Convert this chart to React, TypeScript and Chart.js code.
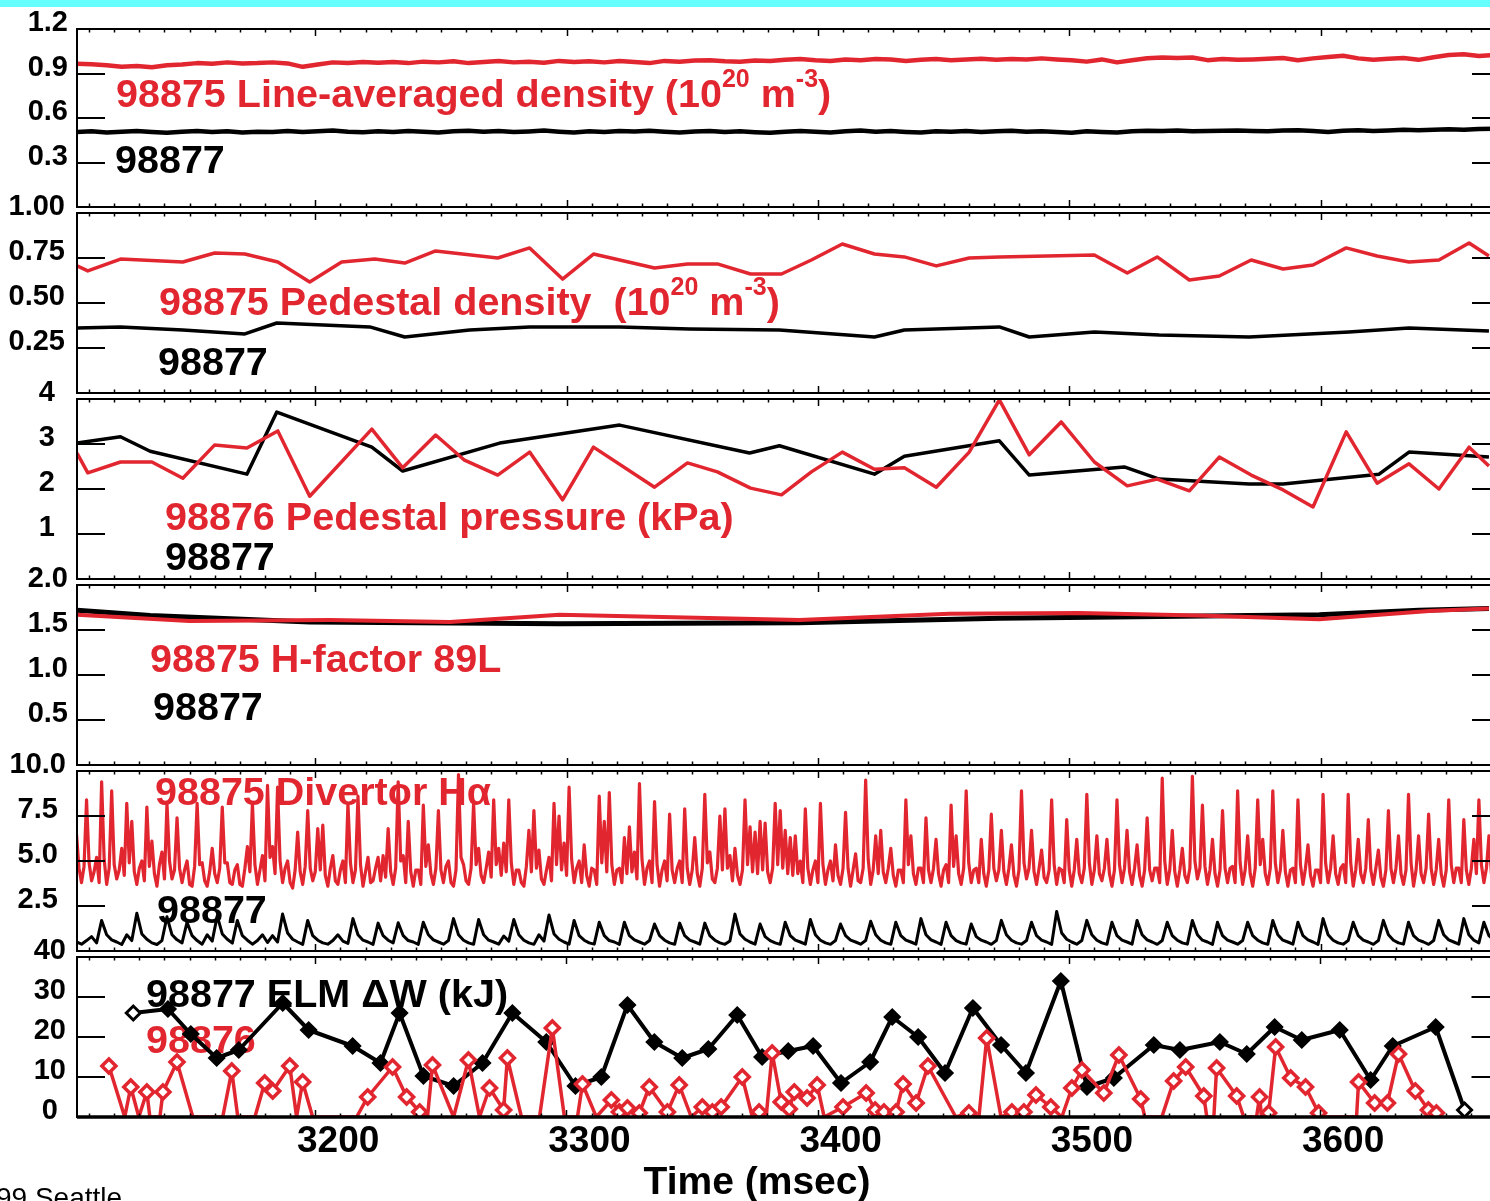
import React, { useEffect, useRef } from "react";
import { Chart, registerables } from "chart.js";

Chart.register(...registerables);

const RED = "rgb(226,38,48)";
const BLACK = "#000000";
const FONT = "'Liberation Sans', Arial, Helvetica, sans-serif";

// ---------- shared time axis ----------
const X_MIN = 3105.2;
const X_MAX = 3671.4;
const X_TICK_VALUES = [3200, 3300, 3400, 3500, 3600];
const X_TICK_LABELS = ["3200", "3300", "3400", "3500", "3600"];
const X_TITLE = "Time (msec)";
const FOOTER = "99 Seattle";

// ---------- panel 1: line-averaged density (sampled every 6 ms from 3105) ----------
const LAD_START = 3105;
const LAD_STEP = 6;
const lineAvg98875 = [
  0.965, 0.962, 0.955, 0.945, 0.95, 0.942, 0.955, 0.96, 0.97, 0.965,
  0.975, 0.968, 0.97, 0.975, 0.968, 0.945, 0.96, 0.975, 0.97, 0.978,
  0.972, 0.978, 0.97, 0.98, 0.975, 0.982, 0.97, 0.978, 0.985, 0.975,
  0.98, 0.972, 0.985, 0.978, 0.982, 0.975, 0.985, 0.978, 0.97, 0.985,
  0.98, 0.988, 0.99, 0.982, 0.98, 0.988, 0.985, 0.992, 0.998, 0.99,
  0.985, 0.995, 0.99, 0.998, 0.995, 0.985, 0.992, 0.998, 0.99, 0.995,
  1.0, 0.992, 0.998, 0.995, 1.002, 0.995, 0.99, 0.98, 0.995, 0.975,
  0.99, 1.003, 1.008, 1.005, 1.008, 0.99, 0.998, 0.992, 0.995, 1.0,
  1.005, 0.99, 1.002, 1.012, 1.02, 1.002, 0.992, 1.0, 1.005, 0.992,
  1.01, 1.025, 1.03, 1.018, 1.025,
];
const lineAvg98877 = [
  0.505, 0.51, 0.503, 0.508, 0.512, 0.505, 0.5, 0.508, 0.513, 0.506,
  0.51, 0.502, 0.508, 0.505, 0.512, 0.506, 0.51, 0.515, 0.508, 0.504,
  0.51, 0.506, 0.512, 0.508, 0.503, 0.51, 0.514, 0.507, 0.512, 0.505,
  0.509, 0.515, 0.508, 0.502, 0.51, 0.506, 0.512, 0.509, 0.514, 0.508,
  0.503, 0.509, 0.513, 0.506, 0.51, 0.504, 0.5, 0.508, 0.512, 0.507,
  0.503, 0.51, 0.515, 0.508, 0.512, 0.506, 0.502, 0.51, 0.507, 0.512,
  0.505, 0.51, 0.514, 0.508, 0.511, 0.506, 0.501, 0.51, 0.506, 0.503,
  0.51, 0.514, 0.512, 0.516, 0.51, 0.512, 0.514, 0.515, 0.513, 0.51,
  0.515, 0.518, 0.512, 0.506, 0.514, 0.518, 0.512, 0.516, 0.52, 0.517,
  0.521, 0.524, 0.52, 0.526, 0.528,
];
const P1_Y_TICKS = [0.3, 0.6, 0.9, 1.2];
const P1_Y_LABELS = ["0.3", "0.6", "0.9", "1.2"];

// ---------- panel 2: pedestal density ----------
const pedTime98875 = [
  3105.2, 3109.5, 3122.5, 3147.3, 3160.0, 3172.0, 3185.1, 3197.8, 3210.5, 3223.7,
  3235.6, 3247.9, 3272.6, 3285.3, 3298.4, 3310.7, 3335.0, 3348.1, 3360.0, 3373.2,
  3385.5, 3397.4, 3409.7, 3422.5, 3434.4, 3447.1, 3460.2, 3472.2, 3510.0, 3523.1,
  3535.0, 3547.8, 3559.7, 3572.4, 3585.1, 3597.0, 3610.2, 3622.5, 3635.2, 3647.1,
  3659.1, 3667.0,
];
const pedDens98875 = [
  0.706, 0.678, 0.744, 0.728, 0.778, 0.772, 0.728, 0.617, 0.728, 0.744,
  0.722, 0.789, 0.75, 0.806, 0.633, 0.772, 0.694, 0.717, 0.717, 0.661,
  0.661, 0.739, 0.828, 0.772, 0.756, 0.706, 0.75, 0.756, 0.767, 0.667,
  0.756, 0.628, 0.65, 0.739, 0.689, 0.711, 0.806, 0.761, 0.728, 0.739,
  0.833, 0.761,
];
const pedTime98877 = [
  3105.2, 3122.5, 3147.3, 3172.0, 3184.7, 3221.7, 3235.6, 3261.4, 3285.3, 3321.1,
  3348.9, 3384.7, 3422.5, 3434.4, 3472.2, 3484.1, 3510.0, 3535.8, 3571.6, 3611.3,
  3635.2, 3667.0,
];
const pedDens98877 = [
  0.361, 0.367, 0.35, 0.328, 0.389, 0.367, 0.311, 0.35, 0.367, 0.367,
  0.356, 0.35, 0.311, 0.35, 0.367, 0.311, 0.339, 0.322, 0.311, 0.339,
  0.361, 0.344,
];
const P2_Y_TICKS = [0.25, 0.5, 0.75, 1.0];
const P2_Y_LABELS = ["0.25", "0.50", "0.75", "1.00"];

// ---------- panel 3: pedestal pressure ----------
const prsTime98876 = [
  3105.2, 3109.5, 3122.5, 3135.0, 3147.3, 3160.0, 3172.8, 3185.1, 3197.8, 3222.5,
  3234.8, 3247.9, 3259.4, 3272.6, 3285.3, 3298.4, 3310.7, 3335.0, 3348.1, 3360.0,
  3373.2, 3385.5, 3397.4, 3409.7, 3422.5, 3434.4, 3447.1, 3460.2, 3472.2, 3484.1,
  3496.8, 3510.0, 3523.1, 3535.0, 3547.8, 3559.7, 3572.4, 3585.1, 3597.0, 3610.2,
  3622.5, 3635.2, 3647.1, 3659.1, 3667.0,
];
const prs98876 = [
  2.8, 2.36, 2.6, 2.6, 2.24, 2.98, 2.91, 3.29, 1.84, 3.33,
  2.47, 3.2, 2.64, 2.31, 2.82, 1.76, 2.93, 2.04, 2.58, 2.38,
  2.02, 1.87, 2.38, 2.82, 2.44, 2.47, 2.04, 2.82, 3.98, 2.76,
  3.49, 2.6, 2.07, 2.22, 1.96, 2.71, 2.31, 1.98, 1.6, 3.27,
  2.13, 2.56, 2.0, 2.93, 2.51,
];
const prsTime98877 = [
  3105.2, 3122.5, 3134.3, 3172.8, 3184.7, 3222.5, 3234.8, 3273.4, 3321.1, 3372.8,
  3384.7, 3422.5, 3434.4, 3472.2, 3484.1, 3521.9, 3535.8, 3571.6, 3585.1, 3623.3,
  3635.2, 3667.0,
];
const prs98877 = [
  3.02, 3.16, 2.84, 2.33, 3.71, 2.93, 2.4, 3.02, 3.42, 2.8,
  2.96, 2.33, 2.73, 3.07, 2.31, 2.49, 2.22, 2.11, 2.11, 2.33,
  2.82, 2.71,
];
const P3_Y_TICKS = [1, 2, 3, 4];
const P3_Y_LABELS = ["1", "2", "3", "4"];

// ---------- panel 4: H-factor 89L ----------
const hTime98875 = [3105.2, 3149.9, 3205.8, 3253.5, 3297.2, 3392.7, 3452.3, 3504.0, 3551.7, 3599.5, 3643.2, 3667.0];
const h98875 = [1.67, 1.6, 1.61, 1.59, 1.67, 1.61, 1.68, 1.69, 1.66, 1.62, 1.71, 1.74];
const hTime98877 = [3105.2, 3134.3, 3197.8, 3297.2, 3392.7, 3472.2, 3599.5, 3639.2, 3667.0];
const h98877 = [1.72, 1.66, 1.59, 1.57, 1.58, 1.63, 1.67, 1.72, 1.74];
const P4_Y_TICKS = [0.5, 1.0, 1.5, 2.0];
const P4_Y_LABELS = ["0.5", "1.0", "1.5", "2.0"];

// ---------- panel 5: divertor H-alpha ----------
// 98875 sampled every 1 ms from 3105, 98877 sampled every 2 ms from 3105
const HA75_START = 3105;
const HA75_STEP = 1;
const ha98875 = [
  6.5, 4.6, 3.8, 4.7, 8.4, 4.9, 3.9, 4.4, 5.2, 3.8, 9.4, 5.1, 3.7, 4.6, 8.9, 4.8, 4.0, 4.5, 5.7, 4.2,
  8.2, 4.9, 7.2, 4.4, 3.7, 4.6, 5.0, 3.9, 8.0, 4.7, 6.1, 4.3, 3.6, 4.8, 5.5, 4.0, 8.2, 5.0, 4.0, 4.5,
  7.4, 4.6, 3.8, 4.5, 5.0, 3.7, 3.6, 4.7, 8.2, 4.8, 4.9, 3.9, 3.6, 4.4, 5.7, 4.3, 3.8, 4.6, 8.0, 4.9,
  4.9, 3.8, 3.7, 4.5, 4.8, 3.7, 3.6, 4.6, 5.8, 4.4, 8.2, 4.8, 3.7, 4.5, 5.3, 3.9, 9.2, 5.2, 5.8, 4.3,
  9.1, 5.0, 3.8, 4.6, 5.0, 3.8, 3.5, 4.5, 6.6, 4.4, 3.7, 4.7, 7.8, 4.6, 3.9, 4.4, 6.8, 4.5, 7.0, 4.2,
  3.6, 4.6, 5.3, 3.9, 3.7, 4.5, 5.0, 3.8, 8.2, 4.9, 3.8, 4.5, 8.6, 4.8, 3.6, 4.4, 5.2, 3.8, 3.9, 4.6,
  5.2, 3.9, 5.3, 4.1, 6.8, 4.4, 3.7, 4.6, 9.4, 5.0, 5.3, 3.8, 7.2, 4.4, 3.6, 4.5, 4.5, 3.7, 8.1, 4.7,
  5.9, 4.3, 3.7, 4.6, 7.8, 4.5, 3.8, 4.7, 5.0, 3.8, 3.6, 4.5, 9.8, 5.2, 4.8, 3.9, 3.7, 4.6, 8.2, 4.8,
  5.7, 4.2, 3.8, 4.6, 5.5, 4.1, 8.4, 4.8, 5.7, 4.2, 6.0, 4.4, 8.4, 4.9, 3.7, 4.5, 4.5, 3.8, 3.6, 4.7,
  6.7, 4.4, 7.8, 4.6, 5.6, 4.0, 3.7, 4.5, 5.2, 3.9, 8.2, 4.8, 7.5, 4.5, 6.0, 4.2, 9.1, 5.1, 3.8, 4.6,
  5.0, 3.8, 5.9, 4.2, 3.6, 4.6, 4.5, 3.7, 8.6, 4.9, 7.2, 4.4, 8.8, 4.8, 3.7, 4.5, 4.6, 3.8, 6.3, 4.3,
  6.9, 4.4, 5.5, 4.0, 9.3, 5.1, 3.7, 4.6, 5.0, 3.8, 8.3, 4.8, 3.6, 4.5, 5.0, 3.9, 7.6, 4.5, 3.8, 4.6,
  5.0, 3.8, 7.9, 4.6, 3.7, 4.5, 6.3, 4.3, 3.6, 4.6, 8.7, 4.9, 5.5, 4.0, 3.8, 4.6, 7.5, 4.5, 7.9, 4.6,
  5.3, 3.9, 5.7, 4.2, 3.7, 4.5, 8.4, 4.8, 6.9, 4.4, 6.6, 4.3, 7.2, 4.5, 7.1, 4.4, 3.8, 4.6, 8.2, 4.8,
  7.8, 4.6, 6.7, 4.3, 6.3, 4.2, 6.4, 4.3, 5.0, 3.8, 7.9, 4.6, 3.7, 4.5, 5.0, 3.8, 8.2, 4.8, 3.7, 4.5,
  5.0, 3.9, 5.9, 4.2, 3.7, 4.6, 7.7, 4.6, 3.6, 4.5, 5.4, 3.9, 3.8, 4.6, 9.5, 5.1, 3.7, 4.5, 6.4, 4.3,
  6.7, 4.4, 3.8, 4.6, 5.7, 4.2, 3.6, 4.5, 4.5, 3.8, 8.4, 4.8, 6.4, 4.3, 3.7, 4.6, 4.6, 3.8, 7.4, 4.5,
  3.8, 4.6, 6.2, 4.3, 3.6, 4.5, 4.8, 3.8, 8.1, 4.7, 6.4, 4.3, 3.7, 4.6, 8.9, 4.9, 3.8, 4.5, 4.6, 3.8,
  6.2, 4.3, 3.6, 4.5, 7.6, 4.6, 3.9, 4.5, 6.7, 4.4, 3.7, 4.6, 5.9, 4.2, 3.6, 4.5, 8.9, 4.9, 4.0, 4.6,
  6.7, 4.4, 3.7, 4.6, 5.6, 4.1, 3.8, 4.5, 8.4, 4.8, 3.7, 4.6, 4.5, 3.8, 7.3, 4.5, 3.6, 4.5, 6.2, 4.3,
  3.8, 4.6, 8.7, 4.9, 3.7, 4.5, 6.4, 4.3, 3.9, 4.6, 6.2, 4.3, 3.6, 4.5, 8.4, 4.8, 3.8, 4.6, 6.7, 4.4,
  3.7, 4.6, 5.9, 4.2, 3.6, 4.5, 7.4, 4.5, 3.9, 4.6, 4.6, 3.8, 9.6, 5.0, 3.7, 4.5, 6.7, 4.4, 3.6, 4.5,
  5.7, 4.2, 3.8, 4.6, 9.7, 5.0, 4.0, 4.6, 8.1, 4.7, 3.7, 4.5, 6.2, 4.3, 3.6, 4.5, 7.8, 4.6, 3.8, 4.6,
  4.7, 3.8, 8.9, 4.9, 3.7, 4.5, 6.4, 4.3, 3.6, 4.6, 8.4, 4.8, 6.2, 4.3, 3.7, 4.6, 8.9, 4.9, 3.8, 4.5,
  6.7, 4.4, 3.6, 4.5, 4.6, 3.8, 8.4, 4.8, 3.7, 4.6, 5.9, 4.2, 3.6, 4.5, 4.5, 3.8, 8.7, 4.9, 3.8, 4.6,
  6.4, 4.3, 3.7, 4.6, 4.8, 3.8, 8.7, 4.9, 3.6, 4.5, 6.2, 4.3, 3.8, 4.6, 7.3, 4.5, 3.7, 4.6, 5.6, 4.1,
  3.6, 4.5, 7.8, 4.6, 3.8, 4.6, 6.4, 4.3, 3.7, 4.5, 8.7, 4.9, 3.6, 4.5, 6.4, 4.3, 3.8, 4.6, 7.6, 4.6,
  3.7, 4.5, 6.2, 4.3, 3.6, 4.5, 8.4, 4.8, 3.8, 4.6, 4.6, 3.8, 7.3, 4.5, 3.7, 4.6, 6.2, 4.3, 8.4, 4.8,
  3.8, 4.6, 6.4, 4.3, 3.7, 4.5, 4.5, 3.8,
];
const HA77_START = 3105;
const HA77_STEP = 2;
const ha98877 = [
  0.5, 0.38, 0.58, 0.8, 0.45, 1.7, 0.9, 0.62, 0.5, 0.36,
  0.9, 0.58, 2.1, 0.95, 0.65, 0.45, 0.36, 0.58, 1.9, 0.9,
  0.62, 0.45, 1.6, 0.85, 0.58, 0.38, 0.9, 0.55, 1.95, 0.95,
  0.65, 0.44, 1.7, 0.85, 0.6, 0.38, 0.58, 0.9, 0.47, 0.85,
  0.5, 2.05, 1.0, 0.65, 0.5, 0.37, 1.7, 0.85, 0.6, 0.45,
  0.38, 0.58, 0.9, 0.55, 0.42, 1.8, 0.9, 0.6, 0.5, 0.37,
  1.55, 0.85, 0.6, 0.45, 1.57, 0.85, 0.58, 0.5, 0.37, 1.6,
  0.9, 0.62, 0.5, 0.38, 0.58, 1.8, 0.9, 0.6, 0.45, 0.37,
  1.75, 0.9, 0.6, 0.5, 0.38, 0.83, 0.55, 1.75, 0.9, 0.6,
  0.45, 0.37, 0.9, 0.55, 2.0, 0.95, 0.65, 0.5, 0.38, 1.7,
  0.85, 0.6, 0.45, 0.38, 1.6, 0.85, 0.58, 0.5, 0.37, 1.6,
  0.85, 0.62, 0.5, 0.38, 0.58, 1.5, 0.85, 0.6, 0.45, 0.37,
  1.55, 0.85, 0.6, 0.5, 0.38, 1.55, 0.85, 0.6, 0.45, 0.37,
  0.55, 2.05, 0.95, 0.65, 0.5, 0.38, 1.5, 0.8, 0.58, 0.45,
  0.37, 1.6, 0.85, 0.6, 0.5, 0.38, 1.75, 0.9, 0.6, 0.45,
  0.37, 0.58, 1.5, 0.85, 0.6, 0.5, 0.38, 0.58, 1.65, 0.9,
  0.6, 0.45, 0.37, 1.6, 0.85, 0.6, 0.5, 0.38, 1.8, 0.9,
  0.62, 0.5, 0.37, 1.6, 0.85, 0.58, 0.45, 0.38, 1.5, 0.8,
  0.6, 0.5, 0.37, 0.58, 1.7, 0.9, 0.6, 0.45, 0.38, 0.58,
  1.6, 0.85, 0.6, 0.5, 0.37, 2.2, 1.0, 0.65, 0.5, 0.38,
  0.58, 1.7, 0.9, 0.6, 0.45, 0.37, 1.6, 0.85, 0.6, 0.5,
  0.38, 1.7, 0.9, 0.62, 0.5, 0.37, 0.58, 1.6, 0.85, 0.6,
  0.45, 0.38, 1.7, 0.9, 0.6, 0.5, 0.37, 1.6, 0.85, 0.6,
  0.5, 0.38, 0.58, 1.6, 0.85, 0.6, 0.45, 0.37, 1.7, 0.9,
  0.6, 0.5, 0.38, 1.6, 0.85, 0.62, 0.5, 0.37, 1.8, 0.9,
  0.6, 0.45, 0.38, 0.58, 1.6, 0.85, 0.6, 0.5, 0.37, 0.58,
  1.7, 0.9, 0.6, 0.45, 0.38, 1.6, 0.85, 0.6, 0.5, 0.37,
  0.58, 1.7, 0.9, 0.62, 0.5, 0.38, 1.8, 0.9, 0.6, 0.45,
  1.6, 0.85, 0.6, 0.5,
];
const P5_Y_TICKS = [2.5, 5.0, 7.5, 10.0];
const P5_Y_LABELS = ["2.5", "5.0", "7.5", "10.0"];

// ---------- panel 6: ELM energy loss ----------
const elmTime98877 = [
  3127.6, 3141.4, 3150.5, 3160.8, 3169.6, 3187.1, 3197.4, 3214.9, 3226.0, 3233.6,
  3243.1, 3255.1, 3266.6, 3278.5, 3292.0, 3303.6, 3313.9, 3324.3, 3335.0, 3346.1,
  3356.5, 3368.0, 3377.9, 3388.3, 3398.2, 3409.3, 3420.9, 3429.7, 3440.0, 3450.7,
  3461.8, 3473.0, 3482.9, 3496.8, 3507.2, 3517.9, 3533.8, 3544.2, 3560.1, 3570.8,
  3581.9, 3592.7, 3607.8, 3620.1, 3628.9, 3646.0, 3657.5,
];
const elm98877 = [
  26.0, 27.0, 20.75, 14.75, 16.75, 28.5, 21.75, 17.75, 13.5, 26.0,
  10.25, 7.75, 13.5, 26.0, 18.75, 7.75, 10.0, 28.0, 18.75, 14.75,
  17.0, 25.5, 15.0, 16.5, 17.75, 8.5, 13.75, 25.0, 20.0, 11.0,
  27.25, 18.0, 11.0, 34.0, 7.5, 9.75, 18.0, 16.75, 18.75, 15.75,
  22.5, 19.25, 21.75, 9.25, 17.75, 22.5, 1.75,
];
const elmTime98876 = [
  3117.9, 3124.2, 3126.6, 3129.8, 3133.0, 3134.2, 3138.2, 3139.4, 3145.0, 3151.3,
  3163.2, 3166.8, 3169.2, 3176.0, 3179.9, 3183.1, 3189.9, 3192.6, 3195.0, 3199.0,
  3216.5, 3220.9, 3230.8, 3236.4, 3241.6, 3244.7, 3246.7, 3255.1, 3261.0, 3265.4,
  3269.4, 3275.0, 3276.5, 3282.1, 3289.3, 3294.4, 3299.2, 3304.4, 3306.4, 3311.9,
  3317.9, 3321.1, 3324.3, 3329.0, 3333.0, 3340.2, 3344.9, 3349.7, 3354.1, 3358.1,
  3361.6, 3370.0, 3374.0, 3376.7, 3379.5, 3381.9, 3385.5, 3388.7, 3390.7, 3395.8,
  3399.8, 3402.6, 3410.1, 3419.3, 3422.9, 3426.4, 3431.2, 3434.0, 3439.2, 3443.9,
  3455.0, 3460.2, 3464.2, 3467.3, 3473.0, 3477.3, 3482.1, 3486.9, 3492.8, 3497.2,
  3501.2, 3505.2, 3513.9, 3519.9, 3528.6, 3530.2, 3537.0, 3541.7, 3546.5, 3553.7,
  3554.9, 3557.7, 3558.8, 3566.8, 3569.6, 3574.7, 3575.9, 3576.7, 3579.5, 3582.3,
  3588.3, 3594.2, 3599.4, 3600.6, 3614.5, 3615.3, 3621.7, 3626.8, 3631.2, 3637.9,
  3643.1, 3646.3, 3648.3,
];
const elm98876 = [
  12.75, 0, 7.5, 0, 6.25, 0, 0, 6.25, 13.75, 0,
  0, 11.5, 0, 0, 8.5, 6.5, 12.75, 0, 8.75, 0,
  0, 5.0, 12.5, 5.0, 1.25, 0, 13.0, 0, 14.25, 0,
  7.25, 1.75, 14.75, 0, 0, 22.25, 0, 0, 8.25, 0,
  4.25, 1.25, 2.25, 1.0, 7.5, 1.25, 8.0, 0, 2.5, 1.25,
  2.5, 10.0, 0, 1.25, 0, 16.0, 3.75, 2.0, 6.25, 4.75,
  8.0, 0, 2.5, 6.0, 1.75, 1.25, 1.25, 8.25, 3.5, 12.75,
  0, 1.0, 0, 19.75, 0, 1.25, 1.25, 5.5, 2.5, 0,
  7.25, 11.75, 6.0, 15.5, 4.5, 0, 0, 9.0, 12.5, 5.25,
  0, 0, 12.25, 5.25, 0, 0, 5.0, 0, 1.0, 17.5,
  9.75, 7.5, 1.0, 0, 0, 8.75, 3.5, 3.5, 15.75, 6.5,
  1.75, 1.0, 0,
];
const P6_Y_TICKS = [0, 10, 20, 30, 40];
const P6_Y_LABELS = ["0", "10", "20", "30", "40"];

// ---------- helpers ----------
type Pt = { x: number; y: number };
const pairs = (t: number[], v: number[]): Pt[] => v.map((y, i) => ({ x: t[i], y }));
const sampled = (start: number, step: number, v: number[]): Pt[] =>
  v.map((y, i) => ({ x: start + i * step, y }));

type Part = { text: string; sup?: boolean };
type Label = { parts: Part[]; color: string; x: number; baseline: number };

const LABEL_SIZE = 39.5;
const SUP_SIZE = 25;
const SUP_RAISE = 20;
const PAD_T = 44;
const PAD_B = 44;
const PAGE_H = 1201;
const CANVAS_W = 1510;
const Y_FONT = 29;

function drawRich(ctx: CanvasRenderingContext2D, lab: Label, offsetY: number) {
  let x = lab.x;
  const y = lab.baseline - offsetY;
  ctx.fillStyle = lab.color;
  ctx.textAlign = "left";
  ctx.textBaseline = "alphabetic";
  for (const p of lab.parts) {
    ctx.font = `bold ${p.sup ? SUP_SIZE : LABEL_SIZE}px ${FONT}`;
    ctx.fillText(p.text, x, p.sup ? y - SUP_RAISE : y);
    x += ctx.measureText(p.text).width;
  }
}

type PanelDef = {
  top: number;
  bottom: number;
  yMax: number;
  yTicks: number[];
  yLabels: string[];
  yLabelPad: number;
  datasets: any[];
  labels: Label[];
};

const line = (data: Pt[], color: string, width: number, extra: any = {}) => ({
  data,
  borderColor: color,
  backgroundColor: color,
  borderWidth: width,
  pointRadius: 0,
  tension: 0,
  borderJoinStyle: "round",
  fill: false,
  ...extra,
});

const elmRed = pairs(elmTime98876, elm98876);
const elmBlack = pairs(elmTime98877, elm98877);

const PANELS: PanelDef[] = [
  {
    top: 29,
    bottom: 207,
    yMax: 1.2,
    yTicks: P1_Y_TICKS,
    yLabels: P1_Y_LABELS,
    yLabelPad: 9,
    datasets: [
      line(sampled(LAD_START, LAD_STEP, lineAvg98875), RED, 4.5),
      line(sampled(LAD_START, LAD_STEP, lineAvg98877), BLACK, 4.5),
    ],
    labels: [
      {
        parts: [
          { text: "98875 Line-averaged density (10" },
          { text: "20", sup: true },
          { text: " m" },
          { text: "-3", sup: true },
          { text: ")" },
        ],
        color: RED,
        x: 116,
        baseline: 107,
      },
      { parts: [{ text: "98877" }], color: BLACK, x: 115, baseline: 173 },
    ],
  },
  {
    top: 213,
    bottom: 393,
    yMax: 1.0,
    yTicks: P2_Y_TICKS,
    yLabels: P2_Y_LABELS,
    yLabelPad: 12,
    datasets: [
      line(pairs(pedTime98875, pedDens98875), RED, 3.5),
      line(pairs(pedTime98877, pedDens98877), BLACK, 3.5),
    ],
    labels: [
      {
        parts: [
          { text: "98875 Pedestal density  (10" },
          { text: "20", sup: true },
          { text: " m" },
          { text: "-3", sup: true },
          { text: ")" },
        ],
        color: RED,
        x: 159,
        baseline: 315,
      },
      { parts: [{ text: "98877" }], color: BLACK, x: 158, baseline: 375 },
    ],
  },
  {
    top: 399,
    bottom: 579,
    yMax: 4,
    yTicks: P3_Y_TICKS,
    yLabels: P3_Y_LABELS,
    yLabelPad: 22,
    datasets: [
      line(pairs(prsTime98876, prs98876), RED, 3.5),
      line(pairs(prsTime98877, prs98877), BLACK, 3.5),
    ],
    labels: [
      { parts: [{ text: "98876 Pedestal pressure (kPa)" }], color: RED, x: 165, baseline: 530 },
      { parts: [{ text: "98877" }], color: BLACK, x: 165, baseline: 570 },
    ],
  },
  {
    top: 585,
    bottom: 765,
    yMax: 2,
    yTicks: P4_Y_TICKS,
    yLabels: P4_Y_LABELS,
    yLabelPad: 9,
    datasets: [
      line(pairs(hTime98875, h98875), RED, 4),
      line(pairs(hTime98877, h98877), BLACK, 5),
    ],
    labels: [
      { parts: [{ text: "98875 H-factor 89L" }], color: RED, x: 150, baseline: 672 },
      { parts: [{ text: "98877" }], color: BLACK, x: 153, baseline: 720 },
    ],
  },
  {
    top: 771,
    bottom: 951,
    yMax: 10,
    yTicks: P5_Y_TICKS,
    yLabels: P5_Y_LABELS,
    yLabelPad: 11,
    datasets: [
      line(sampled(HA75_START, HA75_STEP, ha98875), RED, 3.2),
      line(sampled(HA77_START, HA77_STEP, ha98877), BLACK, 3),
    ],
    labels: [
      { parts: [{ text: "98875 Divertor H\u03b1" }], color: RED, x: 155, baseline: 805 },
      { parts: [{ text: "98877" }], color: BLACK, x: 157, baseline: 923 },
    ],
  },
  {
    top: 957,
    bottom: 1117,
    yMax: 40,
    yTicks: P6_Y_TICKS,
    yLabels: P6_Y_LABELS,
    yLabelPad: 11,
    datasets: [
      line(elmRed, RED, 3.5, {
        pointStyle: "rectRot",
        pointRadius: elmRed.map((p) => (p.y === 0 ? 0 : 7)),
        pointBorderWidth: 3.5,
        pointBorderColor: RED,
        pointBackgroundColor: "#ffffff",
      }),
      line(elmBlack, BLACK, 4, {
        pointStyle: "rectRot",
        pointRadius: 7,
        pointBorderWidth: 3,
        pointBorderColor: BLACK,
        pointBackgroundColor: elmBlack.map((_, i) =>
          i === 0 || i === elmBlack.length - 1 ? "#ffffff" : BLACK
        ),
      }),
    ],
    labels: [
      { parts: [{ text: "98877 ELM \u0394W (kJ)" }], color: BLACK, x: 146, baseline: 1007 },
      { parts: [{ text: "98876" }], color: RED, x: 146, baseline: 1053 },
    ],
  },
];

function makeDeco(p: PanelDef, isBottom: boolean, canvasTop: number) {
  return {
    id: "deco",
    beforeDatasetsDraw(chart: any) {
      const ctx = chart.ctx as CanvasRenderingContext2D;
      ctx.save();
      for (const lab of p.labels) drawRich(ctx, lab, canvasTop);
      ctx.restore();
    },
    afterDatasetsDraw(chart: any) {
      const ctx = chart.ctx as CanvasRenderingContext2D;
      const a = chart.chartArea;
      const xs = chart.scales.x;
      const ys = chart.scales.y;
      ctx.save();
      ctx.strokeStyle = "#000";
      ctx.lineCap = "butt";
      // y tick marks, inside on both sides
      ctx.lineWidth = 2;
      ctx.beginPath();
      for (const v of p.yTicks) {
        if (v <= 0 || v >= p.yMax) continue;
        const py = Math.round(ys.getPixelForValue(v));
        ctx.moveTo(a.left, py);
        ctx.lineTo(a.left + 28, py);
        ctx.moveTo(a.right - 28, py);
        ctx.lineTo(a.right, py);
      }
      ctx.stroke();
      // x minor / major tick marks on top and bottom edges
      ctx.lineWidth = 1.5;
      ctx.beginPath();
      for (let t = Math.ceil(X_MIN / 10) * 10; t <= X_MAX; t += 10) {
        const px = Math.round(xs.getPixelForValue(t)) + 0.5;
        const len = t % 100 === 0 ? 7 : 3.5;
        ctx.moveTo(px, a.top);
        ctx.lineTo(px, a.top + len);
        ctx.moveTo(px, a.bottom);
        ctx.lineTo(px, a.bottom - len);
      }
      ctx.stroke();
      // frame
      ctx.lineWidth = 2;
      ctx.strokeRect(a.left, a.top, a.right - a.left, a.bottom - a.top);
      if (isBottom) {
        ctx.lineWidth = 3.5;
        ctx.beginPath();
        ctx.moveTo(a.left, a.bottom);
        ctx.lineTo(a.right, a.bottom);
        ctx.stroke();
        ctx.fillStyle = "#000";
        ctx.textAlign = "center";
        ctx.textBaseline = "alphabetic";
        ctx.font = `bold 39px ${FONT}`;
        ctx.fillText(X_TITLE, 757, 1194 - canvasTop);
        ctx.textAlign = "left";
        ctx.font = `28px ${FONT}`;
        ctx.fillText(FOOTER, -4, 1207 - canvasTop);
      }
      ctx.restore();
    },
  };
}

function Panel({ p, isBottom }: { p: PanelDef; isBottom: boolean }) {
  const ref = useRef<HTMLCanvasElement | null>(null);
  const canvasTop = p.top - PAD_T;
  const height = isBottom ? PAGE_H - canvasTop : p.bottom - p.top + PAD_T + PAD_B;
  useEffect(() => {
    if (!ref.current) return;
    const chart = new Chart(ref.current, {
      type: "line",
      data: { datasets: p.datasets },
      options: {
        responsive: false,
        animation: false,
        devicePixelRatio: 1,
        layout: { padding: { top: PAD_T, right: 10, bottom: isBottom ? 0 : PAD_B, left: 0 } },
        plugins: { legend: { display: false }, tooltip: { enabled: false }, title: { display: false } },
        events: [],
        scales: {
          x: {
            type: "linear",
            min: X_MIN,
            max: X_MAX,
            display: isBottom,
            grid: { display: false, drawTicks: false },
            border: { display: false },
            afterBuildTicks: (s: any) => {
              s.ticks = X_TICK_VALUES.map((v) => ({ value: v }));
            },
            afterFit: (s: any) => {
              if (isBottom) s.height = PAGE_H - p.bottom;
            },
            ticks: {
              autoSkip: false,
              maxRotation: 0,
              minRotation: 0,
              padding: 3,
              labelOffset: 23,
              color: "#000",
              font: { family: FONT, size: 37, weight: "bold" },
              callback: (_v: any, i: number) => X_TICK_LABELS[i],
            },
          },
          y: {
            type: "linear",
            min: 0,
            max: p.yMax,
            grid: { display: false, drawTicks: false },
            border: { display: false },
            afterBuildTicks: (s: any) => {
              s.ticks = p.yTicks.map((v) => ({ value: v }));
            },
            afterFit: (s: any) => {
              s.width = 77;
            },
            ticks: {
              autoSkip: false,
              crossAlign: "center",
              padding: p.yLabelPad,
              labelOffset: -6,
              color: "#000",
              font: { family: FONT, size: Y_FONT, weight: "bold" },
              callback: (_v: any, i: number) => p.yLabels[i],
            },
          },
        },
      } as any,
      plugins: [makeDeco(p, isBottom, canvasTop)],
    } as any);
    return () => chart.destroy();
  }, []);
  return (
    <canvas
      ref={ref}
      width={CANVAS_W}
      height={height}
      style={{ position: "absolute", left: 0, top: canvasTop, width: CANVAS_W, height }}
    />
  );
}

export default function App() {
  return (
    <div
      style={{
        position: "fixed",
        left: 0,
        top: 0,
        width: 1490,
        height: PAGE_H,
        overflow: "hidden",
        background: "#ffffff",
      }}
    >
      <div style={{ position: "absolute", left: 0, top: 0, width: 1490, height: 7, background: "#66ffff" }} />
      {PANELS.map((p, i) => (
        <Panel key={i} p={p} isBottom={i === PANELS.length - 1} />
      ))}
    </div>
  );
}
